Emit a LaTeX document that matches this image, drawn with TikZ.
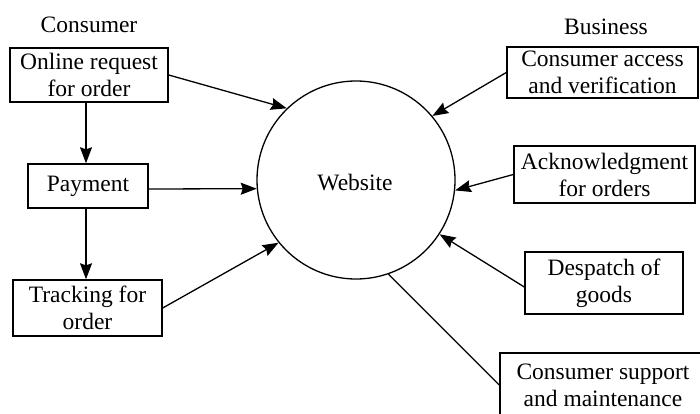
\documentclass[tikz,border=0pt]{standalone}
\usepackage{fontspec}
\setmainfont{Liberation Serif}
\usetikzlibrary{arrows.meta}
\begin{document}
\begin{tikzpicture}[x=1pt,y=-1pt,
  every node/.style={font=\fontsize{23.5}{27}\selectfont},
  boxnode/.style={draw,line width=1.4pt,inner sep=0pt,align=center},
  lbl/.style={inner sep=0pt},
  conn/.style={line width=1.3pt},
  arr/.style={conn,-{Stealth[length=16pt,width=12pt,inset=2pt]}}]
\useasboundingbox (0,0) rectangle (700,414);
\node[lbl] (consumer) at (89,25) {Consumer};
\node[lbl] (business) at (606,27) {Business};
\node[draw,circle,line width=1.3pt,minimum size=198pt,inner sep=0pt] (web) at (356,180) {};
\node[lbl] (webtxt) at (355,183) {Website};
\node[boxnode,minimum width=158pt,minimum height=54pt] (online) at (89,75) {Online request\\for order};
\node[boxnode,minimum width=120pt,minimum height=44pt] (pay) at (88,186) {Payment};
\node[boxnode,minimum width=149pt,minimum height=56pt] (track) at (87.5,308) {Tracking for\\order};
\node[boxnode,minimum width=191pt,minimum height=51pt] (access) at (602.5,72.5) {Consumer access\\and verification};
\node[boxnode,minimum width=181pt,minimum height=57pt] (ack) at (604.5,174.5) {Acknowledgment\\for orders};
\node[boxnode,minimum width=158pt,minimum height=62pt] (desp) at (604,283) {Despatch of\\goods};
\node[boxnode,minimum width=206pt,minimum height=64pt] (supp) at (603,385) {Consumer support\\and maintenance};
\draw[arr] ([xshift=-2pt]pay.north |- online.south) -- ([xshift=-2pt]pay.north);
\draw[arr] ([xshift=-2pt]pay.south) -- ([xshift=-2pt]pay.south |- track.north);
\draw[arr] (online.east) -- (web.134);
\draw[arr] ([yshift=-3pt]pay.east) -- (web.185);
\draw[arr] (track.east) -- (web.219);
\draw[arr] (access.west) -- (web.40);
\draw[arr] (ack.west) -- (web.-6);
\draw[arr] ([yshift=-4pt]desp.west) -- (web.-33);
\draw[conn] (web.-71) -- (supp.west);
\end{tikzpicture}
\end{document}
